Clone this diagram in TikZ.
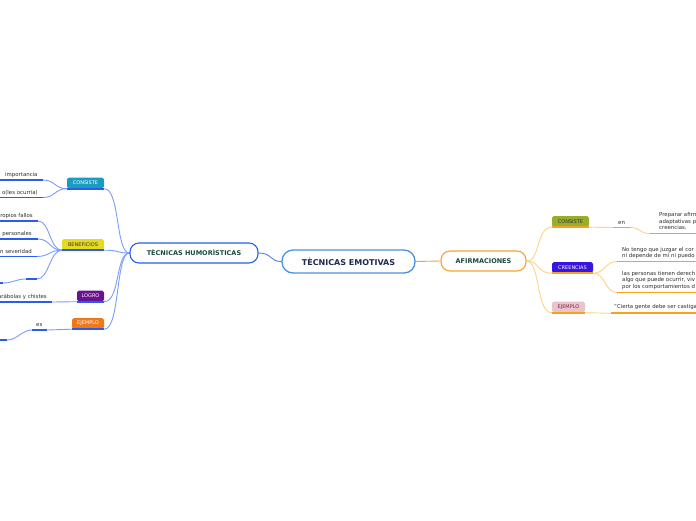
\documentclass[tikz,border=0pt]{standalone}
\usepackage{fontspec}
\setmainfont{DejaVu Sans}
\usetikzlibrary{backgrounds}
\definecolor{bluemain}{HTML}{2462EE}
\definecolor{blueline}{HTML}{2A5CF0}
\definecolor{blueconn}{HTML}{7C9CFF}
\definecolor{emoborder}{HTML}{4A92DC}
\definecolor{emotext}{HTML}{1C2A52}
\definecolor{greentext}{HTML}{1A4A3A}
\definecolor{orangemain}{HTML}{F6A52C}
\definecolor{orangeline}{HTML}{F8A020}
\definecolor{orangeconn}{HTML}{FFD288}
\definecolor{leaftext}{HTML}{2E2E2E}
\definecolor{cteal}{HTML}{1A9CC0}
\definecolor{cyellow}{HTML}{E4DA20}
\definecolor{cpurple}{HTML}{6A1290}
\definecolor{corange}{HTML}{F07818}
\definecolor{colive}{HTML}{9AAD28}
\definecolor{cindigo}{HTML}{3A14E0}
\definecolor{cpink}{HTML}{E8C4CC}
\definecolor{pinktext}{HTML}{8A2040}
\begin{document}
\begin{tikzpicture}[x=1pt,y=-1pt,
  mainbox/.style={draw, fill=white, rounded corners=9pt, line width=1.1pt, font=\bfseries\fontsize{6.5}{8}\selectfont, text=greentext, minimum height=20pt, inner sep=0pt},
  tag/.style={rounded corners=1.8pt, font=\fontsize{5}{6}\selectfont, minimum height=11pt, inner sep=0pt},
  leaf/.style={font=\fontsize{5.4}{6.5}\selectfont, text=leaftext, inner sep=0pt},
  bline/.style={line width=1.8pt, draw=blueline},
  bconn/.style={line width=0.9pt, draw=blueconn},
  oline/.style={line width=1.8pt, draw=orangeline},
  oconn/.style={line width=0.9pt, draw=orangeconn}]
\clip (0,0) rectangle (696,520);

% main nodes
\node[mainbox, draw=emoborder, line width=1.3pt, text=emotext, font=\bfseries\fontsize{8}{9}\selectfont, minimum width=133pt, minimum height=23pt, rounded corners=11pt] (emo) at (348.5,261.5) {TÈCNICAS EMOTIVAS};
\node[mainbox, draw=bluemain, minimum width=128pt] (hum) at (194,253) {TÈCNICAS HUMORÌSTICAS};
\node[mainbox, draw=orangemain, minimum width=85pt] (afi) at (483.5,261) {AFIRMACIONES};

% left tags
\node[tag, fill=cteal, text=white, minimum width=37pt] (tc) at (85.5,183) {CONSISTE};
\node[tag, fill=cyellow, text=black!80, minimum width=42pt] (tb) at (83,244.5) {BENEFICIOS};
\node[tag, fill=cpurple, text=white, minimum width=27pt] (tl) at (90.5,296) {LOGRO};
\node[tag, fill=corange, text=white, minimum width=32pt] (te) at (88,323.5) {EJEMPLO};

% right tags
\node[tag, fill=colive, text=black!80, minimum width=37pt] (rc) at (570.5,221.5) {CONSISTE};
\node[tag, fill=cindigo, text=white, minimum width=41pt] (rcr) at (572.5,267.5) {CREENCIAS};
\node[tag, fill=cpink, text=pinktext, minimum width=33pt] (rej) at (568.5,307) {EJEMPLO};

% left leaves
\node[leaf, anchor=base west] (l1) at (5,176.5) {importancia};
\node[leaf, anchor=base east] (l2) at (38,194) {o(les ocurría)};
\node[leaf, anchor=base east] (l3) at (33,217.5) {ropios fallos};
\node[leaf, anchor=base east] (l4) at (32,235.5) {personales};
\node[leaf, anchor=base east] (l5) at (32,253) {n severidad};
\node[leaf, anchor=base east] (l7) at (47,298.5) {arábolas y chistes};
\node[leaf, anchor=base west] (l8) at (36,326.5) {es};

% right leaves
\node[leaf, anchor=base west] (r0) at (618,224) {en};
\node[leaf, anchor=north west, align=left] (r1) at (659,212.6) {Preparar afirm\\adaptativas p\\creencias.};
\node[leaf, anchor=north west, align=left] (r2) at (622,247) {No tengo que juzgar el cor\\ni depende de mí ni puedo};
\node[leaf, anchor=north west, align=left] (r3) at (622,270.8) {las personas tienen derech\\algo que puede ocurrir, viv\\por los comportamientos d};
\node[leaf, anchor=base west] (r4) at (614,308.5) {"Cierta gente debe ser castiga};

% coordinates for underlines
\coordinate (a1) at (0,180); \coordinate (b1) at (43,180);
\coordinate (a2) at (0,197.5); \coordinate (b2) at (43,197.5);
\coordinate (a3) at (0,221); \coordinate (b3) at (38,221);
\coordinate (a4) at (0,239); \coordinate (b4) at (38,239);
\coordinate (a5) at (0,256.5); \coordinate (b5) at (37,256.5);
\coordinate (a6) at (26,279); \coordinate (b6) at (37,279);
\coordinate (a6x) at (3,283); \coordinate (a6y) at (-5,283);
\coordinate (a7) at (0,302); \coordinate (b7) at (52,302);
\coordinate (a8) at (32,330); \coordinate (b8) at (47,330);
\coordinate (a8x) at (7,340); \coordinate (a8y) at (-5,340);

\coordinate (ra0) at (613,227.5); \coordinate (rb0) at (630,227.5);
\coordinate (ra1) at (650,233.5); \coordinate (rb1) at (700,233.5);
\coordinate (ra2) at (617,261.5); \coordinate (rb2) at (700,261.5);
\coordinate (ra3) at (617,292.5); \coordinate (rb3) at (700,292.5);
\coordinate (ra4) at (611,313.3); \coordinate (rb4) at (700,313.3);

\begin{scope}[on background layer]
  \fill[white] (0,0) rectangle (696,520);
  % main connectors
  \draw[bconn, draw=bluemain!80] (hum.east) .. controls +(14,0) and +(-12,0) .. (emo.west);
  \draw[oconn, draw=orangemain] (emo.east) -- (afi.west);
  % hum -> tags
  \foreach \t in {tc,tb,tl,te}
    \draw[bconn] (hum.west) .. controls +(-14,0) and +(16,0) .. (\t.south east);
  % afi -> tags
  \foreach \t in {rc,rcr,rej}
    \draw[oconn] (afi.east) .. controls +(14,0) and +(-16,0) .. (\t.south west);
\end{scope}

% tag underlines
\foreach \t in {tc,tb,tl,te}
  \draw[bline] (\t.south west) -- (\t.south east);
\foreach \t in {rc,rcr,rej}
  \draw[oline] (\t.south west) -- (\t.south east);

% left leaf connectors
\draw[bconn] (tc.south west) .. controls +(-12,0) and +(12,0) .. (b1);
\draw[bconn] (tc.south west) .. controls +(-12,0) and +(12,0) .. (b2);
\foreach \b in {b3,b4,b5,b6}
  \draw[bconn] (tb.south west) .. controls +(-12,0) and +(12,0) .. (\b);
\draw[bconn] (tl.south west) -- (b7);
\draw[bconn] (te.south west) -- (b8);
\draw[bconn] (a6) .. controls +(-10,0) and +(10,0) .. (a6x);
\draw[bconn] (a8) .. controls +(-10,0) and +(10,0) .. (a8x);

\draw[bline] (a1) -- (b1);
\draw[bline] (a2) -- (b2);
\draw[bline] (a3) -- (b3);
\draw[bline] (a4) -- (b4);
\draw[bline] (a5) -- (b5);
\draw[bline] (a6) -- (b6);
\draw[bline] (a6y) -- (a6x);
\draw[bline] (a7) -- (b7);
\draw[bline] (a8) -- (b8);
\draw[bline] (a8y) -- (a8x);

% right leaf connectors
\draw[oconn] (rc.south east) -- (ra0);
\draw[oconn] (rb0) .. controls +(12,0) and +(-12,0) .. (ra1);
\draw[oconn] (rcr.south east) .. controls +(12,0) and +(-12,0) .. (ra2);
\draw[oconn] (rcr.south east) .. controls +(12,0) and +(-12,0) .. (ra3);
\draw[oconn] (rej.south east) -- (ra4);

\draw[oline] (ra0) -- (rb0);
\draw[oline] (ra1) -- (rb1);
\draw[oline] (ra2) -- (rb2);
\draw[oline] (ra3) -- (rb3);
\draw[oline] (ra4) -- (rb4);
\end{tikzpicture}
\end{document}
